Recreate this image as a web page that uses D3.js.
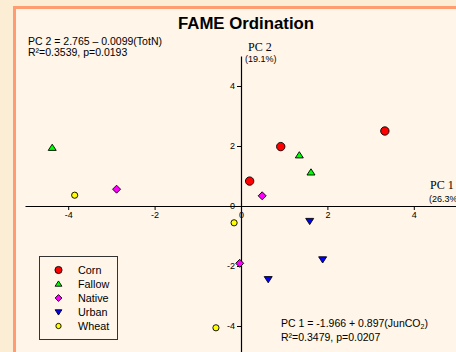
<html>
<head>
<meta charset="utf-8">
<style>
  body { margin: 0; background: #fbeed4; }
  svg text { font-family: "Liberation Sans", Arial, sans-serif; }
  .serif { font-family: "Liberation Serif", "Times New Roman", serif !important; }
</style>
</head>
<body>
<svg width="456" height="352"></svg>
<script src="https://d3js.org/d3.v7.min.js"></script>
<script>
// groups and their PCA scores
var groups = ["Corn", "Fallow", "Native", "Urban", "Wheat"];
var colors = ["#ff0000", "#00ff00", "#ff00ff", "#0000ff", "#ffff00"];
var shapes = ["circle", "triangle", "diamond", "down", "small"];

var cornPC1 = [3.33, 0.92, 0.2];
var cornPC2 = [2.5, 1.98, 0.83];
var fallowPC1 = [1.35, 1.62, -4.37];
var fallowPC2 = [1.69, 1.12, 1.94];
var nativePC1 = [-2.88, 0.49, -0.03];
var nativePC2 = [0.56, 0.34, -1.91];
var urbanPC1 = [1.59, 0.63, 1.89];
var urbanPC2 = [-0.5, -2.44, -1.78];
var wheatPC1 = [-3.85, -0.16, -0.58];
var wheatPC2 = [0.36, -0.56, -4.06];

var xTicks = [-4, -2, 0, 2, 4];
var yTicks = [-4, -2, 0, 2, 4];

var pc1s = [cornPC1, fallowPC1, nativePC1, urbanPC1, wheatPC1];
var pc2s = [cornPC2, fallowPC2, nativePC2, urbanPC2, wheatPC2];

var svg = d3.select("svg");

// panel
svg.append("rect")
    .attr("x", 14.5).attr("y", 7.5)
    .attr("width", 460).attr("height", 360)
    .attr("fill", "#fff5e9")
    .attr("stroke", "#ff9c72")
    .attr("stroke-width", 3);

var x = d3.scaleLinear().domain([-5, 5]).range([25, 457]);
var y = d3.scaleLinear().domain([-5, 5]).range([356, 56]);

var fmt = function(d) { return String(d); };

// axes through origin
var xAxis = svg.append("g")
    .attr("transform", "translate(0," + y(0) + ")")
    .call(d3.axisBottom(x).tickValues(xTicks).tickSize(4).tickSizeOuter(0).tickFormat(fmt));
var yAxis = svg.append("g")
    .attr("transform", "translate(" + x(0) + ",0)")
    .call(d3.axisLeft(y).tickValues(yTicks).tickSize(4).tickSizeOuter(0).tickFormat(fmt));

[xAxis, yAxis].forEach(function(g) {
  g.select(".domain").attr("stroke", "#000").attr("stroke-width", 1.2);
  g.selectAll(".tick line").attr("stroke", "#000");
  g.selectAll(".tick text")
    .attr("font-size", 9)
    .attr("fill", "#000")
    .style("font-family", "Liberation Sans, Arial, sans-serif");
});
xAxis.selectAll(".tick text").attr("dy", "0.71em").attr("y", 6);
yAxis.selectAll(".tick text").attr("x", -6);

// marker drawing; k scales legend markers down a bit
function marker(g, shape, color, k) {
  k = k || 1;
  var sw = 0.9;
  if (shape === "circle") {
    g.append("circle").attr("r", 4.2 * k).attr("fill", color).attr("stroke", "#000").attr("stroke-width", sw);
  } else if (shape === "small") {
    g.append("circle").attr("r", 3.1 * k).attr("fill", color).attr("stroke", "#000").attr("stroke-width", sw);
  } else {
    var pts;
    if (shape === "triangle") pts = [[0, -3.6], [4, 2.6], [-4, 2.6]];
    else if (shape === "down") pts = [[0, 3.6], [4, -2.6], [-4, -2.6]];
    else pts = [[0, -4], [4, 0], [0, 4], [-4, 0]];
    pts = pts.map(function(p) { return [p[0] * k, p[1] * k]; });
    g.append("path")
      .attr("d", d3.line()(pts) + "Z")
      .attr("fill", color).attr("stroke", "#000").attr("stroke-width", sw);
  }
}

groups.forEach(function(name, i) {
  pc1s[i].forEach(function(v, j) {
    var g = svg.append("g")
      .attr("transform", "translate(" + x(v) + "," + y(pc2s[i][j]) + ")");
    marker(g, shapes[i], colors[i]);
  });
});

// title
svg.append("text")
    .attr("x", 246).attr("y", 29)
    .attr("text-anchor", "middle")
    .attr("font-size", 16.8).attr("font-weight", "bold")
    .text("FAME Ordination");

// regression notes
svg.append("text").attr("x", 28).attr("y", 45).attr("font-size", 10.5)
    .text("PC 2 = 2.765 \u2013 0.0099(TotN)");
svg.append("text").attr("x", 28).attr("y", 56).attr("font-size", 10.5)
    .text("R\u00b2=0.3539, p=0.0193");

var bt = svg.append("text").attr("x", 281).attr("y", 327).attr("font-size", 10.5);
bt.append("tspan").text("PC 1 = -1.966 + 0.897(JunCO");
bt.append("tspan").attr("font-size", 7).attr("dy", 2).text("2");
bt.append("tspan").attr("dy", -2).text(")");
svg.append("text").attr("x", 281).attr("y", 341).attr("font-size", 10.5)
    .text("R\u00b2=0.3479, p=0.0207");

// axis titles
svg.append("text").attr("class", "serif").attr("x", 248).attr("y", 51).attr("font-size", 12).text("PC 2");
svg.append("text").attr("x", 245).attr("y", 62).attr("font-size", 9).text("(19.1%)");
svg.append("text").attr("class", "serif").attr("x", 430).attr("y", 189).attr("font-size", 12).text("PC 1");
svg.append("text").attr("x", 429).attr("y", 202).attr("font-size", 9).text("(26.3%)");

// legend
var leg = svg.append("g");
leg.append("rect")
    .attr("x", 39.5).attr("y", 256.5).attr("width", 78).attr("height", 83)
    .attr("fill", "none").attr("stroke", "#333").attr("stroke-width", 1);
groups.forEach(function(name, i) {
  var row = leg.append("g").attr("transform", "translate(58.5," + (270 + i * 14) + ")");
  marker(row, shapes[i], colors[i], 0.85);
  row.append("text").attr("x", 19.5).attr("y", 4).attr("font-size", 10.8).text(name);
});
</script>
</body>
</html>
